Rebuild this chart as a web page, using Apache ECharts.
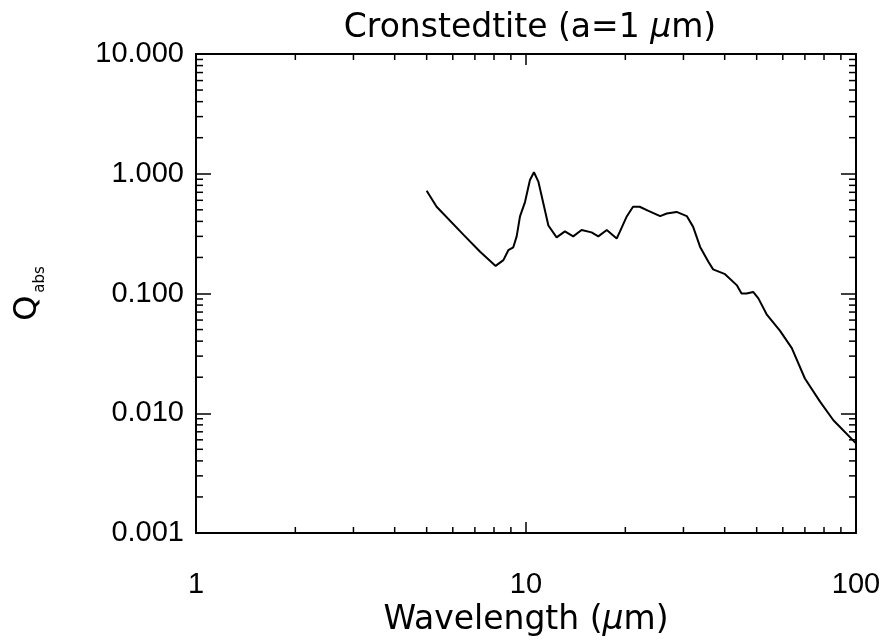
<!DOCTYPE html>
<html><head><meta charset="utf-8">
<script src="https://cdn.jsdelivr.net/npm/echarts@6/dist/echarts.min.js"></script>
<style>html,body{margin:0;padding:0;background:#fff}#c{width:892px;height:644px}</style>
</head><body><div id="c"></div>
<script>
const wavelength = [5.0, 5.36, 6.46, 7.26, 8.09, 8.54, 8.84, 9.15, 9.37, 9.59, 9.93, 10.28, 10.57, 10.9, 11.28, 11.69, 12.38, 13.12, 13.9, 14.74, 15.8, 16.56, 17.57, 18.83, 19.27, 20.2, 21.1, 22.1, 23.5, 25.5, 26.7, 28.6, 30.7, 32.1, 33.7, 35.7, 36.9, 40.1, 43.5, 45.0, 46.6, 48.8, 50.6, 53.6, 58.8, 63.9, 70.0, 77.8, 85.4, 100];
const qabs = [0.72, 0.53, 0.31, 0.223, 0.17, 0.19, 0.23, 0.243, 0.30, 0.44, 0.58, 0.886, 1.03, 0.86, 0.57, 0.37, 0.294, 0.33, 0.30, 0.339, 0.324, 0.30, 0.339, 0.288, 0.33, 0.44, 0.53, 0.53, 0.49, 0.443, 0.466, 0.48, 0.443, 0.36, 0.245, 0.184, 0.159, 0.145, 0.1175, 0.1, 0.1, 0.103, 0.091, 0.067, 0.049, 0.035, 0.0195, 0.0125, 0.00874, 0.0056];
const xMinorTicks = [2,3,4,5,6,7,8,9,20,30,40,50,60,70,80,90];
const yMinorTicks = [0.002,0.003,0.004,0.005,0.006,0.007,0.008,0.009,0.02,0.03,0.04,0.05,0.06,0.07,0.08,0.09,0.2,0.3,0.4,0.5,0.6,0.7,0.8,0.9,2,3,4,5,6,7,8,9];
const xMin = 1, xMax = 100, yMin = 0.001, yMax = 10;

const LFONT = 'Liberation Sans';
const DFONT = 'DejaVu Sans';
const chart = echarts.init(document.getElementById('c'));
const axisLine = {show: true, onZero: false, lineStyle: {color: '#000', width: 2}};
const line = (x1,y1,x2,y2) => ({type:'line', shape:{x1,y1,x2,y2}, style:{stroke:'#000', lineWidth:1.5}});
const richTitle = {
  n: {fontFamily: DFONT, fontSize: 33, color: '#000'},
  it: {fontFamily: DFONT, fontSize: 33, fontStyle: 'italic', color: '#000'}
};
const richName = {
  n: {fontFamily: DFONT, fontSize: 33, color: '#000'},
  it: {fontFamily: DFONT, fontSize: 33, fontStyle: 'italic', color: '#000'}
};
chart.setOption({
  animation: false,
  backgroundColor: '#fff',
  title: {
    text: '{n|Cronstedtite (a=1 }{it|μ}{n|m)}',
    left: 525, top: 7, textAlign: 'center',
    textStyle: {fontFamily: DFONT, fontSize: 33, fontWeight: 'normal', color: '#000', rich: richTitle}
  },
  grid: {left: 196, top: 54, width: 660, height: 479, containLabel: false},
  xAxis: [
    {type: 'log', logBase: 10, min: xMin, max: xMax, interval: 1, position: 'bottom',
     axisLine, splitLine: {show: false},
     axisTick: {show: true, inside: true, length: 11, lineStyle: {color: '#000', width: 1.5}},
     axisLabel: {fontFamily: LFONT, fontSize: 29, color: '#000', margin: 37},
     name: '{n|Wavelength (}{it|μ}{n|m)}', nameLocation: 'middle', nameGap: 65,
     nameTextStyle: {fontFamily: DFONT, fontSize: 33, color: '#000', rich: richName}},
    {type: 'log', logBase: 10, min: xMin, max: xMax, interval: 1, position: 'top',
     axisLine, splitLine: {show: false},
     axisTick: {show: true, inside: true, length: 11, lineStyle: {color: '#000', width: 1.5}},
     axisLabel: {show: false}}
  ],
  yAxis: [
    {type: 'log', logBase: 10, min: yMin, max: yMax, interval: 1, position: 'left',
     axisLine, splitLine: {show: false},
     axisTick: {show: true, inside: true, length: 15, lineStyle: {color: '#000', width: 1.5}},
     axisLabel: {fontFamily: LFONT, fontSize: 29, color: '#000', margin: 12,
       formatter: v => Number(v).toFixed(3)},
     name: '{q|Q}{sub|abs}', nameLocation: 'middle', nameRotate: 90, nameGap: 152,
     nameTextStyle: {fontFamily: DFONT, fontSize: 32, color: '#000',
       rich: {
         q: {fontFamily: DFONT, fontSize: 32, color: '#000', lineHeight: 36, verticalAlign: 'bottom', padding: [0,3,0,0]},
         sub: {fontFamily: DFONT, fontSize: 15, color: '#000', lineHeight: 36, verticalAlign: 'bottom', padding: [0,0,-4,0]}
       }}},
    {type: 'log', logBase: 10, min: yMin, max: yMax, interval: 1, position: 'right',
     axisLine, splitLine: {show: false},
     axisTick: {show: true, inside: true, length: 15, lineStyle: {color: '#000', width: 1.5}},
     axisLabel: {show: false}}
  ],
  series: [
    {type: 'line', xAxisIndex: 0, yAxisIndex: 0, showSymbol: false, symbol: 'none',
     data: wavelength.map((w, i) => [w, qabs[i]]),
     lineStyle: {color: '#000', width: 2}, smooth: false},
    {type: 'custom', xAxisIndex: 0, yAxisIndex: 0, silent: true, clip: false,
     data: xMinorTicks.map(v => [v]),
     renderItem: (params, api) => {
       const b = api.coord([api.value(0), yMin]);
       const t = api.coord([api.value(0), yMax]);
       return {type: 'group', children: [line(b[0], b[1], b[0], b[1]-6), line(t[0], t[1], t[0], t[1]+6)]};
     }},
    {type: 'custom', xAxisIndex: 0, yAxisIndex: 0, silent: true, clip: false,
     data: yMinorTicks.map(v => [xMin, v]),
     renderItem: (params, api) => {
       const l = api.coord([xMin, api.value(1)]);
       const r = api.coord([xMax, api.value(1)]);
       return {type: 'group', children: [line(l[0], l[1], l[0]+7, l[1]), line(r[0], r[1], r[0]-7, r[1])]};
     }}
  ]
});
</script></body></html>
